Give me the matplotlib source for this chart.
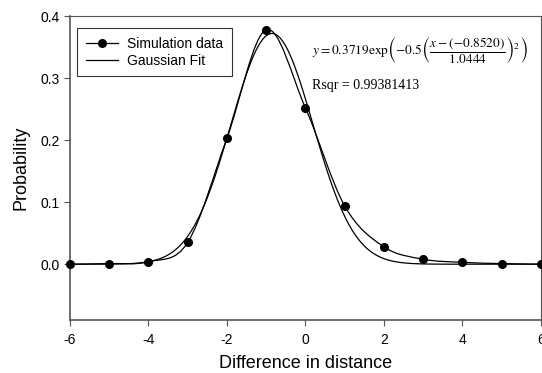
import numpy as np
import matplotlib
matplotlib.use("Agg")
import matplotlib.pyplot as plt
from matplotlib.path import Path
from matplotlib.patches import PathPatch

# simulation data
diff = [-6, -5, -4, -3, -2, -1, 0, 1, 2, 3, 4, 5, 6]
prob = [0.0, 0.001, 0.004, 0.035, 0.203, 0.378, 0.252, 0.094, 0.028, 0.008, 0.003, 0.001, 0.0]

# gaussian fit parameters printed on the chart
fit_a = 0.3719
fit_x0 = -0.8520
fit_b = 1.0444
r_sqr = "0.99381413"

xticks = [-6, -4, -2, 0, 2, 4, 6]
yticks = [0.0, 0.1, 0.2, 0.3, 0.4]

plt.rcParams['font.family'] = ['Liberation Sans', 'DejaVu Sans']
plt.rcParams['mathtext.fontset'] = 'stix'

fig = plt.figure(figsize=(5.42, 3.73), dpi=100)
ax = fig.add_axes([0.129, 0.142, 0.869, 0.815])


def smooth_path(xs, ys):
    # Catmull-Rom style bezier segments through the data points
    xs = np.asarray(xs, float)
    ys = np.asarray(ys, float)
    verts = [(xs[0], ys[0])]
    codes = [Path.MOVETO]
    n = len(xs)
    for i in range(n - 1):
        x0, y0 = (xs[i - 1], ys[i - 1]) if i > 0 else (xs[i], ys[i])
        x1, y1 = xs[i], ys[i]
        x2, y2 = xs[i + 1], ys[i + 1]
        x3, y3 = (xs[i + 2], ys[i + 2]) if i + 2 < n else (x2, y2)
        c1 = (x1 + (x2 - x0) / 6, y1 + (y2 - y0) / 6)
        c2 = (x2 - (x3 - x1) / 6, y2 - (y3 - y1) / 6)
        verts += [c1, c2, (x2, y2)]
        codes += [Path.CURVE4] * 3
    return Path(verts, codes)


ax.add_patch(PathPatch(smooth_path(diff, prob), fill=False, color='black', lw=0.9))
ax.plot(diff, prob, 'o', color='black', markersize=5.5, clip_on=False, zorder=3)
ax.plot([], [], 'o-', color='black', markersize=5.5, lw=0.9, label='Simulation data')

xf = np.linspace(-6, 6, 400)
yf = fit_a * np.exp(-0.5 * ((xf - fit_x0) / fit_b) ** 2)
ax.plot(xf, yf, color='black', lw=0.9, label='Gaussian Fit')

ax.set_xlim(-6, 6)
ax.set_ylim(-0.09, 0.4)
ax.set_xticks(xticks)
ax.set_yticks(yticks)
ax.set_xticklabels([str(t) for t in xticks])
ax.set_yticklabels([f"{t:.1f}" for t in yticks])
ax.tick_params(direction='out', length=4, width=0.8, color='#555555', labelsize=10)
ax.tick_params(axis='x', pad=5)

for s in ax.spines.values():
    s.set_color('#555555')
    s.set_linewidth(0.8)
ax.spines['left'].set_linewidth(1.2)
ax.spines['bottom'].set_linewidth(1.2)

ax.set_xlabel('Difference in distance', fontsize=13, labelpad=6)
ax.set_ylabel('Probability', fontsize=13, labelpad=8)

leg = ax.legend(loc='upper left', bbox_to_anchor=(0.016, 0.96), fontsize=10,
                frameon=True, fancybox=False, handlelength=2.3, borderpad=0.6,
                labelspacing=0.25, handletextpad=0.7, borderaxespad=0)
leg.get_frame().set_edgecolor('black')
leg.get_frame().set_linewidth(0.8)

eq = (r'$y = %.4f\mathrm{exp}\left(-0.5\left(\dfrac{x-(\mathrm{-}%.4f)}{%.4f}\right)^{2}\right)$'
      % (fit_a, -fit_x0, fit_b))
ax.text(0.515, 0.885, eq, transform=ax.transAxes, fontsize=9.6, va='center', ha='left')
ax.text(0.515, 0.773, 'Rsqr = ' + r_sqr, transform=ax.transAxes, fontsize=10,
        va='center', ha='left', family=['Liberation Serif', 'DejaVu Serif'])

fig.savefig('out.png', dpi=100)
